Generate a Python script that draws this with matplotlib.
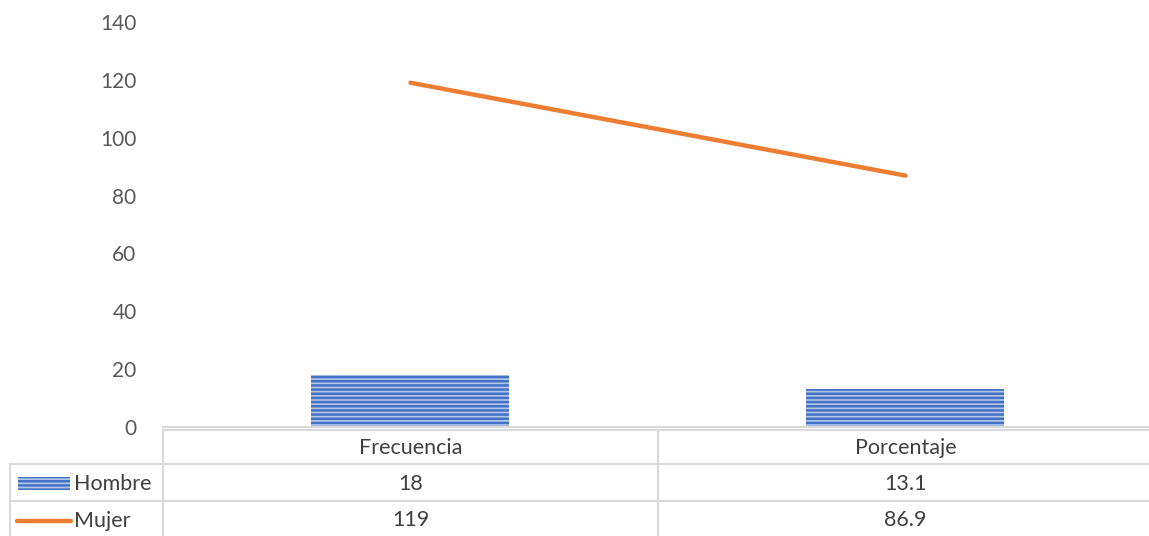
import matplotlib.pyplot as plt
import matplotlib.transforms as mtransforms
from matplotlib.patches import Rectangle
from matplotlib.lines import Line2D

# Data
categories = ["Frecuencia", "Porcentaje"]
hombre = [18, 13.1]
mujer = [119, 86.9]
series_names = ["Hombre", "Mujer"]

plt.rcParams['font.family'] = ['Lato', 'DejaVu Sans']
plt.rcParams['hatch.color'] = '#4472C4'
plt.rcParams['hatch.linewidth'] = 1.8

W, H = 1149, 536
fig = plt.figure(figsize=(W / 100, H / 100), dpi=100)

def fy(py):
    return 1 - py / H

left, right = 163, 1153
ax = fig.add_axes([left / W, fy(427), (right - left) / W, (427 - 22) / H])

x = list(range(len(categories)))
ax.bar(x, hombre, width=0.4, color='#b4c6ea', edgecolor='#4472C4', hatch='----',
       linewidth=0)
ax.plot(x, mujer, color='#ED7D31', lw=3.2, solid_capstyle='round')

ax.set_xlim(-0.5, len(categories) - 0.5)
ax.set_ylim(0, 140)
ax.set_yticks(range(0, 141, 20))
ax.tick_params(axis='y', length=0, pad=19, labelsize=15, labelcolor='#595959')
ax.set_xticks([])
for s in ['top', 'right', 'left']:
    ax.spines[s].set_visible(False)
ax.spines['bottom'].set_color('#d9d9d9')
ax.spines['bottom'].set_linewidth(1.5)

# data table below the axis
grid = '#d9d9d9'
txt = '#404040'
fs = 15.5
trans = mtransforms.blended_transform_factory(ax.transData, fig.transFigure)
n = len(categories)
row_tops = [430, 464, 501, 536]

# horizontal lines
fig.add_artist(Line2D([left / W, 1], [fy(430)] * 2, color=grid, lw=1.5))
for py in [464, 501]:
    fig.add_artist(Line2D([10 / W, 1], [fy(py)] * 2, color=grid, lw=1.5))
# vertical lines
fig.add_artist(Line2D([left / W] * 2, [fy(430), 0], color=grid, lw=1.5))
fig.add_artist(Line2D([10 / W] * 2, [fy(464), 0], color=grid, lw=1.5))
for i in range(1, n):
    fig.add_artist(Line2D([i - 0.5] * 2, [fy(430), 0], color=grid, lw=1.5,
                          transform=trans))

rows = [[str(c) for c in categories],
        [f"{v:g}" for v in hombre],
        [f"{v:g}" for v in mujer]]
for r, vals in enumerate(rows):
    cy = fy((row_tops[r] + row_tops[r + 1]) / 2 + 1)
    for i, v in enumerate(vals):
        ax.text(i, cy, v, transform=trans, ha='center', va='center',
                fontsize=fs, color=txt)

# row labels with legend keys
fig.add_artist(Rectangle((18 / W, fy(490)), 52 / W, 13 / H, facecolor='#b4c6ea',
                         edgecolor='#4472C4', hatch='----', linewidth=0))
fig.text(74 / W, fy(484), series_names[0], ha='left', va='center', fontsize=fs, color=txt)
fig.add_artist(Line2D([17 / W, 71 / W], [fy(521)] * 2, color='#ED7D31', lw=3.2,
                      solid_capstyle='round'))
fig.text(74 / W, fy(521), series_names[1], ha='left', va='center', fontsize=fs, color=txt)

fig.savefig("out.png", dpi=100)
